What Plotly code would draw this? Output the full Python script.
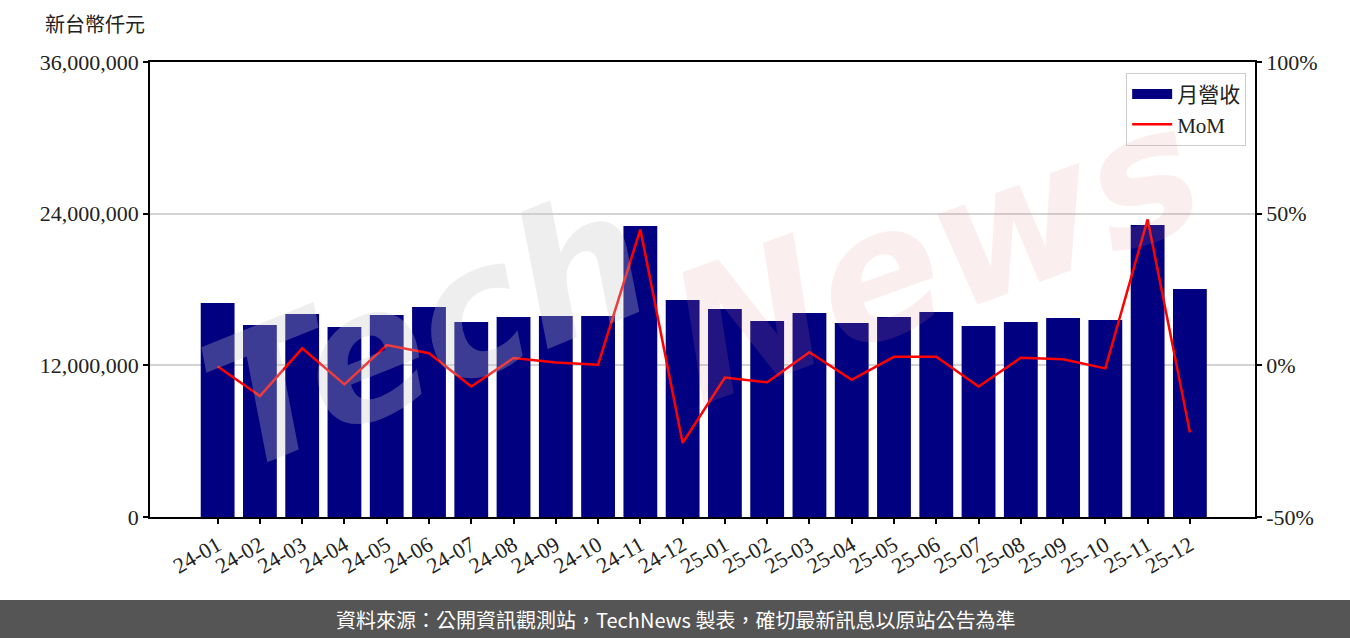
import plotly.graph_objects as go

months = [
    "24-01", "24-02", "24-03", "24-04", "24-05", "24-06",
    "24-07", "24-08", "24-09", "24-10", "24-11", "24-12",
    "25-01", "25-02", "25-03", "25-04", "25-05", "25-06",
    "25-07", "25-08", "25-09", "25-10", "25-11", "25-12",
]

# 月營收 (新台幣仟元)
revenue = [
    16930000, 15190000, 16060000, 15030000, 15980000, 16620000,
    15430000, 15820000, 15900000, 15900000, 23020000, 17170000,
    16460000, 15510000, 16140000, 15350000, 15820000, 16220000,
    15110000, 15430000, 15740000, 15590000, 23100000, 18040000,
]

# MoM (%)
mom = [
    -0.4, -10.1, 5.6, -6.3, 6.7, 4.0,
    -7.0, 2.4, 0.9, 0.2, 44.8, -25.6,
    -4.0, -5.6, 4.3, -4.8, 2.8, 2.8,
    -7.0, 2.5, 2.0, -1.0, 48.1, -22.1,
]

left_ticks = [0, 12000000, 24000000, 36000000]
left_labels = ["0", "12,000,000", "24,000,000", "36,000,000"]
right_ticks = [-50, 0, 50, 100]
right_labels = ["-50%", "0%", "50%", "100%"]

SERIF = "Liberation Serif, Noto Sans CJK TC, serif"
SANS = "Noto Sans CJK TC, Noto Sans, sans-serif"

fig = go.Figure()
fig.add_trace(go.Bar(
    x=months, y=revenue, name="月營收", showlegend=False,
    marker=dict(color="#000080", line=dict(width=0)),
    width=0.8,
))
# 圖例用的寬方塊
fig.add_trace(go.Scatter(
    x=[months[0]], y=[None], name="月營收", mode="lines",
    line=dict(color="#000080", width=15),
))
fig.add_trace(go.Scatter(
    x=months, y=mom, name="MoM", yaxis="y2",
    mode="lines", line=dict(color="#ff0000", width=2.5),
))

axis_common = dict(
    showline=True, linecolor="black", linewidth=1.5,
    ticks="outside", ticklen=5, tickwidth=1.5, tickcolor="black",
    tickfont=dict(family=SERIF, size=22, color="#222222"),
    zeroline=False,
)

fig.update_layout(
    width=1350, height=638,
    margin=dict(l=150, r=95, t=62, b=121),
    plot_bgcolor="white", paper_bgcolor="white",
    xaxis=dict(
        **axis_common, type="category", range=[-1.6, 24.54],
        tickangle=-30, showgrid=False, mirror=True,
    ),
    yaxis=dict(
        **axis_common, range=[0, 36000000],
        tickvals=left_ticks, ticktext=left_labels,
        showgrid=True, gridcolor="#d3d3d3", gridwidth=1.5,
    ),
    yaxis2=dict(
        **axis_common, overlaying="y", side="right", range=[-50, 100],
        tickvals=right_ticks, ticktext=right_labels, showgrid=False,
    ),
    legend=dict(
        x=0.992, y=0.976, xanchor="right", yanchor="top",
        bordercolor="#cccccc", borderwidth=1, bgcolor="rgba(255,255,255,0.8)",
        font=dict(family=SERIF, size=21, color="#222222"),
        itemwidth=40, tracegroupgap=2,
    ),
    showlegend=True,
)

# y 軸單位
fig.add_annotation(
    xref="paper", yref="paper", x=-0.05, y=1.053,
    text="新台幣仟元", showarrow=False, xanchor="center", yanchor="bottom",
    font=dict(family=SERIF, size=20, color="#222222"),
)

# 浮水印
fig.add_annotation(
    xref="paper", yref="paper", x=0.25, y=0.41, text="<i><b>Tech</b></i>",
    showarrow=False, textangle=-22, xanchor="center", yanchor="middle",
    font=dict(family="DejaVu Sans", size=180, color="rgba(200,200,200,0.3)"),
)
fig.add_annotation(
    xref="paper", yref="paper", x=0.71, y=0.58, text="<i><b>News</b></i>",
    showarrow=False, textangle=-20, xanchor="center", yanchor="middle",
    font=dict(family="DejaVu Sans", size=180, color="rgba(230,140,140,0.15)"),
)

# 頁尾
fig.add_shape(
    type="rect", xref="paper", yref="paper",
    x0=-150 / 1105, x1=1200 / 1105, y0=-121 / 455, y1=-83 / 455,
    fillcolor="#555555", line=dict(width=0), layer="above",
)
fig.add_annotation(
    xref="paper", yref="paper", x=525 / 1105, y=-102 / 455,
    text="資料來源：公開資訊觀測站，TechNews 製表，確切最新訊息以原站公告為準",
    showarrow=False, xanchor="center", yanchor="middle",
    font=dict(family=SANS, size=20, color="white"),
)

fig.write_html(
    "out.html",
    config={"displayModeBar": False},
    post_script="document.body.style.margin='0';",
)
